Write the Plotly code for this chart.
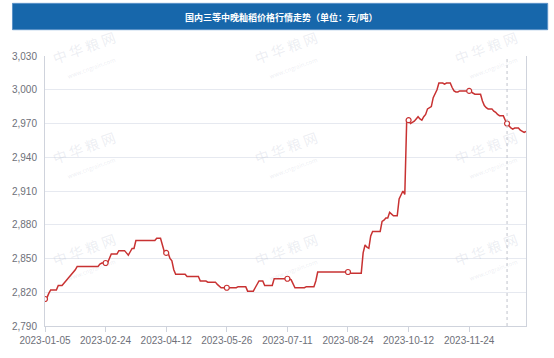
import plotly.graph_objects as go

title_text = "国内三等中晚籼稻价格行情走势（单位：元/吨）"

tick_labels = ["2023-01-05", "2023-02-24", "2023-04-12", "2023-05-26",
               "2023-07-11", "2023-08-24", "2023-10-12", "2023-11-24"]

prices = [
    2814, 2815, 2819, 2822, 2822, 2822, 2822, 2826, 2826, 2826,
    2828, 2830, 2831, 2833, 2835, 2838, 2840, 2843, 2843, 2843,
    2843, 2843, 2843, 2843, 2843, 2843, 2843, 2843, 2843, 2845,
    2846, 2846, 2846, 2846, 2850, 2854, 2854, 2854, 2854, 2857,
    2857, 2857, 2857, 2855, 2853, 2856, 2859, 2859, 2866, 2866,
    2866, 2866, 2866, 2866, 2866, 2866, 2866, 2866, 2866, 2868,
    2868, 2868, 2862, 2856, 2855, 2855, 2850, 2848, 2840, 2836,
    2836, 2836, 2836, 2836, 2836, 2834, 2834, 2834, 2834, 2834,
    2834, 2834, 2830, 2830, 2830, 2830, 2829, 2829, 2829, 2829,
    2829, 2827, 2825, 2824, 2824, 2824, 2824, 2824, 2824, 2824,
    2824, 2824, 2825, 2825, 2825, 2825, 2825, 2821, 2821, 2821,
    2821, 2824, 2827, 2830, 2830, 2830, 2826, 2826, 2826, 2826,
    2826, 2832, 2832, 2832, 2832, 2832, 2832, 2832, 2832, 2832,
    2831, 2828, 2824, 2824, 2824, 2824, 2824, 2824, 2825, 2825,
    2825, 2825, 2825, 2830, 2838, 2838, 2838, 2838, 2838, 2838,
    2838, 2838, 2838, 2838, 2838, 2838, 2838, 2838, 2838, 2838,
    2838, 2837, 2837, 2837, 2837, 2837, 2837, 2837, 2855, 2862,
    2860, 2859, 2870, 2874, 2874, 2874, 2874, 2874, 2883, 2884,
    2886, 2886, 2891, 2889, 2888, 2888, 2888, 2903, 2906, 2910,
    2907, 2973, 2973, 2970, 2971, 2972, 2974, 2976, 2974, 2973,
    2976, 2978, 2983, 2984, 2985, 2993, 2996, 3000, 3006, 3006,
    3006, 3005, 3006, 3006, 3006, 3002, 2999, 2998, 2998, 2999,
    2999, 2999, 2999, 2999, 2999, 2998, 2997, 2996, 2996, 2996,
    2996, 2990, 2986, 2984, 2983, 2983, 2983, 2981, 2980, 2978,
    2977, 2977, 2977, 2973, 2970, 2968, 2966, 2965, 2966, 2966,
    2966, 2964, 2963, 2962, 2963,
]

N = len(prices)
idx = list(range(N))
label_step = 32
tick_idx = [i * label_step for i in range(len(tick_labels))]
hover_idx = 244
marker_idx = tick_idx + [hover_idx]

line_color = "#c83232"
grid_color = "#e6e9f0"
axis_color = "#cfd3dc"
text_color = "#6e7079"

fig = go.Figure()

fig.add_trace(go.Scatter(
    x=idx, y=prices, mode="lines",
    line=dict(color=line_color, width=1.5),
    hoverinfo="skip", showlegend=False,
))
fig.add_trace(go.Scatter(
    x=marker_idx, y=[prices[i] for i in marker_idx], mode="markers",
    marker=dict(symbol="circle", size=5, color="white",
                line=dict(color=line_color, width=1.2)),
    hoverinfo="skip", showlegend=False,
))

L, R, T, B = 38, 28, 56, 25
W, H = 554, 358
pw, ph = W - L - R, H - T - B


def px_to_paper_x(px):
    return (px - L) / pw


def px_to_paper_y(py):
    return (H - B - py) / ph


shapes = []
shapes.append(dict(type="rect", xref="paper", yref="paper",
                   x0=px_to_paper_x(5), x1=px_to_paper_x(548),
                   y0=px_to_paper_y(29), y1=px_to_paper_y(2),
                   fillcolor="#1767ab", line=dict(color="#5b93c8", width=1),
                   layer="below"))
shapes.append(dict(type="line", xref="x", yref="paper",
                   x0=hover_idx, x1=hover_idx, y0=0, y1=1,
                   line=dict(color="#c0c4cc", width=1, dash="dot")))

annotations = [dict(
    text="<b>" + title_text + "</b>", xref="paper", yref="paper",
    x=px_to_paper_x(277), y=px_to_paper_y(16), showarrow=False,
    font=dict(family="Noto Sans CJK SC", size=9, color="white"),
    xanchor="center", yanchor="middle",
)]

# faint watermarks
for wx in (80, 285, 488):
    for wy in (55, 158, 262):
        annotations.append(dict(
            text="中 华 粮 网<br><span style='font-size:6px'>www.cngrain.com</span>",
            xref="paper", yref="paper",
            x=px_to_paper_x(wx), y=px_to_paper_y(wy), showarrow=False,
            textangle=-20,
            font=dict(family="Noto Sans CJK SC", size=14,
                      color="rgba(170,180,200,0.22)"),
            xanchor="center", yanchor="middle",
        ))

fig.update_layout(
    width=W, height=H,
    margin=dict(l=L, r=R, t=T, b=B),
    paper_bgcolor="white", plot_bgcolor="white",
    shapes=shapes, annotations=annotations,
    font=dict(family="Liberation Sans, Arial, sans-serif", size=10, color=text_color),
    xaxis=dict(
        range=[0, N - 1], tickmode="array", tickvals=tick_idx, ticktext=tick_labels,
        showgrid=False, zeroline=False, showline=True, linecolor=axis_color,
        linewidth=1, mirror=False, ticks="outside", ticklen=5, tickcolor=axis_color,
        tickfont=dict(size=10, color=text_color),
    ),
    yaxis=dict(
        range=[2790, 3030], tickmode="array",
        tickvals=[2790, 2820, 2850, 2880, 2910, 2940, 2970, 3000, 3030],
        tickformat=",d", showgrid=True, gridcolor=grid_color, gridwidth=1,
        zeroline=False, showline=True, linecolor=axis_color, linewidth=1,
        mirror=True, ticks="", ticklabelstandoff=5,
        tickfont=dict(size=10, color=text_color),
    ),
)

fig.write_html("out.html")
